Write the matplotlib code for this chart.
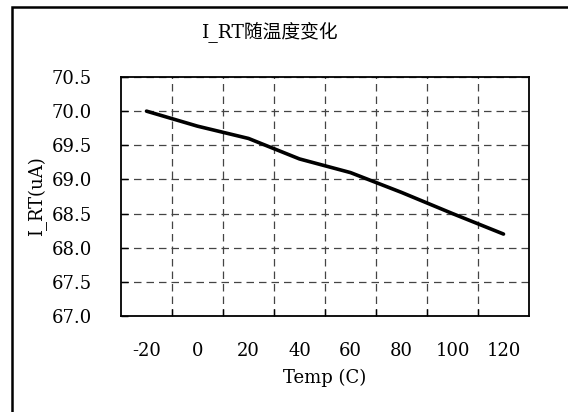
import matplotlib.pyplot as plt
from matplotlib.patches import Rectangle
from matplotlib.ticker import FixedLocator

plt.rcParams['font.family'] = ['DejaVu Serif', 'Noto Sans CJK SC']

# data
temps = [-20, 0, 20, 40, 60, 80, 100, 120]
i_rt = [70.0, 69.78, 69.6, 69.3, 69.1, 68.81, 68.5, 68.2]
y_ticks = [67.0, 67.5, 68.0, 68.5, 69.0, 69.5, 70.0, 70.5]

W, H = 568, 412
fig = plt.figure(figsize=(W / 100, H / 100), dpi=100)
ax = fig.add_axes([121 / W, 1 - 316 / H, (529 - 121) / W, (316 - 77) / H])

pos = list(range(len(temps)))
ax.plot(pos, i_rt, color='black', linewidth=2.6, solid_capstyle='round')

ax.set_xlim(-0.5, len(temps) - 0.5)
ax.set_ylim(67.0, 70.5)
ax.set_xticks(pos)
ax.set_xticklabels([str(t) for t in temps])
ax.xaxis.set_minor_locator(FixedLocator([p + 0.5 for p in pos[:-1]]))
ax.set_yticks(y_ticks)
ax.set_yticklabels([f"{v:.1f}" for v in y_ticks])

fs = 13
ax.tick_params(axis='x', which='major', length=0, pad=19, labelsize=fs)
ax.tick_params(axis='x', which='minor', direction='in', length=5, width=1)
ax.tick_params(axis='y', direction='in', length=5, width=1, pad=21, labelsize=fs)

ax.grid(True, axis='y', which='major', color='#444444', linestyle=(0, (6, 4)), linewidth=0.9)
ax.grid(True, axis='x', which='minor', color='#444444', linestyle=(0, (6, 4)), linewidth=0.9)
for s in ax.spines.values():
    s.set_linewidth(1.3)

ax.set_xlabel('Temp (C)', fontsize=fs, labelpad=6)
ax.set_ylabel('I_RT(uA)', fontsize=fs, labelpad=3)

fig.text(270 / W, 1 - 32 / H, 'I_RT随温度变化', ha='center', va='center', fontsize=13.5,
         fontweight='light')

# outer chart border (cropped on right and bottom)
fig.patches.append(Rectangle((12 / W, -0.05), 1.1, 1 - 7 / H + 0.05, transform=fig.transFigure,
                             fill=False, edgecolor='black', linewidth=1.8))

fig.savefig('out.png', dpi=100)
